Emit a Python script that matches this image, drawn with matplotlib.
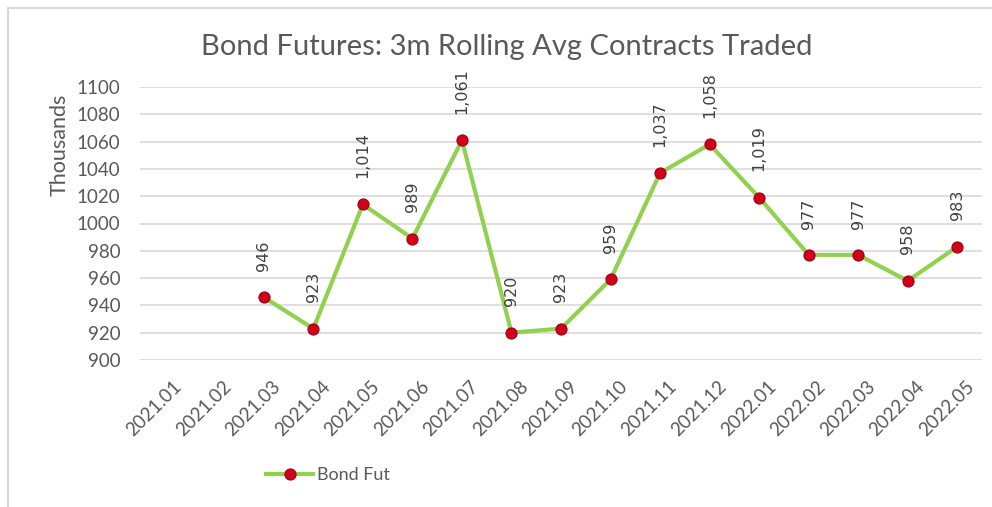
import matplotlib
matplotlib.use("Agg")
import matplotlib.pyplot as plt
from matplotlib.lines import Line2D
from matplotlib.transforms import ScaledTranslation

# Monthly categories and 3-month rolling average volume (thousands of contracts)
months = ["2021.01", "2021.02", "2021.03", "2021.04", "2021.05", "2021.06",
          "2021.07", "2021.08", "2021.09", "2021.10", "2021.11", "2021.12",
          "2022.01", "2022.02", "2022.03", "2022.04", "2022.05"]
bond_fut = [None, None, 946, 923, 1014, 989, 1061, 920, 923, 959, 1037, 1058,
            1019, 977, 977, 958, 983]
y_ticks = list(range(900, 1101, 20))

LINE_GREEN = "#92D050"
MARKER_RED = "#D0021B"
TEXT_GREY = "#595959"
LABEL_GREY = "#404040"
GRID_GREY = "#D9D9D9"

W, H = 992, 507
fig = plt.figure(figsize=(W / 100, H / 100), dpi=100)
ax = fig.add_axes([140 / W, 1 - 360 / H, (982 - 140) / W, (360 - 87) / H])

xs = [i for i, v in enumerate(bond_fut) if v is not None]
ys = [v for v in bond_fut if v is not None]

ax.plot(xs, ys, color=LINE_GREEN, lw=3, solid_joinstyle="round", zorder=3)
ax.plot(xs, ys, ls="none", marker="o", ms=8, mfc=MARKER_RED,
        mec="#A00018", mew=0.8, zorder=4)

for x, v in zip(xs, ys):
    ax.annotate(f"{v:,}", (x, v), xytext=(0, 19), textcoords="offset points",
                rotation=90, ha="center", va="bottom", fontsize=11.5,
                color=LABEL_GREY, family="DejaVu Sans", zorder=5)

ax.set_xlim(-0.5, len(months) - 0.5)
ax.set_ylim(900, 1100)
ax.set_yticks(y_ticks)
ax.set_yticklabels([str(t) for t in y_ticks], family="Lato", fontsize=13.5,
                   color=TEXT_GREY)
ax.set_xticks(range(len(months)))
ax.set_xticklabels(months, rotation=45, ha="right", rotation_mode="anchor",
                   family="Lato", fontsize=13.5, color=TEXT_GREY)
ax.tick_params(axis="y", length=0, pad=14)
ax.tick_params(axis="x", length=0, pad=13)
for lbl in ax.get_xticklabels():
    lbl.set_transform(lbl.get_transform() +
                      ScaledTranslation(8 / 100, 0, fig.dpi_scale_trans))

ax.grid(axis="y", color=GRID_GREY, lw=1.2)
ax.set_axisbelow(True)
for s in ax.spines.values():
    s.set_visible(False)

fig.text(0.5 * (200 + 813) / W, 1 - 47 / H,
         "Bond Futures: 3m Rolling Avg Contracts Traded",
         ha="center", va="center", family="Lato", fontsize=21, color=TEXT_GREY)
fig.text(60 / W, 1 - 145 / H, "Thousands", rotation=90, ha="center",
         va="center", family="Lato", fontsize=15.5, color=TEXT_GREY)

handle = Line2D([], [], color=LINE_GREEN, lw=3, marker="o", ms=8,
                mfc=MARKER_RED, mec="#A00018", mew=0.8)
fig.legend([handle], ["Bond Fut"], loc="center left",
           bbox_to_anchor=(250 / W, 1 - 475 / H), frameon=False,
           prop={"family": "Lato", "size": 13}, labelcolor=TEXT_GREY,
           handlelength=2.6, handletextpad=0.2)

# chart-area border along the top and left edge
fig.add_artist(Line2D([8 / W, 8 / W], [0, 1 - 8 / H], color=GRID_GREY, lw=1.5,
                      transform=fig.transFigure))
fig.add_artist(Line2D([8 / W, 1], [1 - 8 / H, 1 - 8 / H], color=GRID_GREY, lw=1.5,
                      transform=fig.transFigure))

fig.savefig("out.png", dpi=100, facecolor="white")
